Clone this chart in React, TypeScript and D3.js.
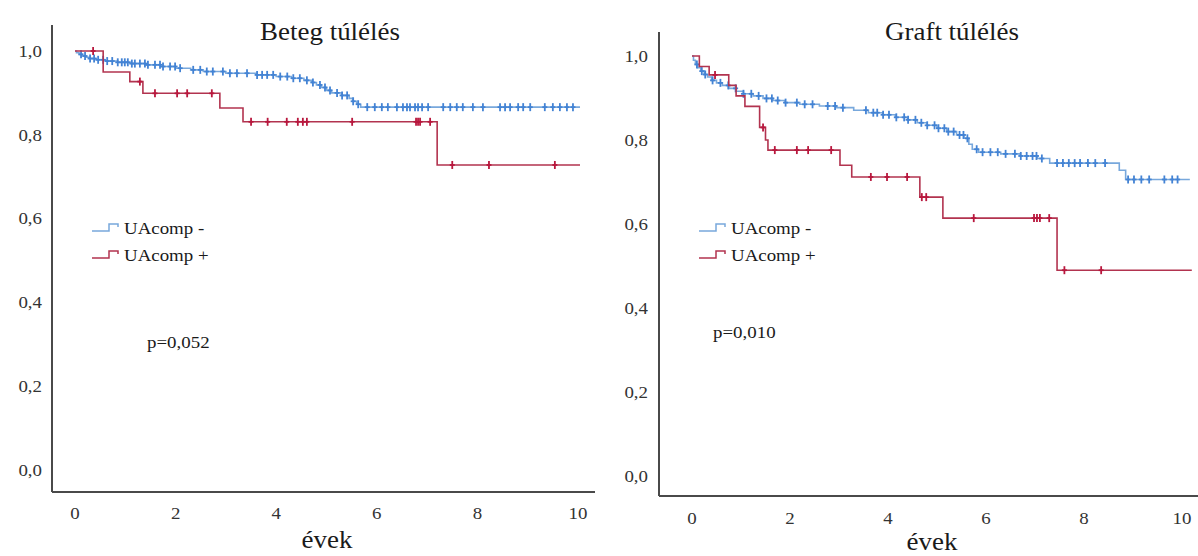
import React from "react";
import * as d3 from "d3";

// ---------- DATA ----------
const xTicks = [0, 2, 4, 6, 8, 10];
const yTicks = [0, 0.2, 0.4, 0.6, 0.8, 1.0];
const groupLabels = ["UAcomp -", "UAcomp +"];
const panelTitles = ["Beteg túlélés", "Graft túlélés"];
const pValues = ["p=0,052", "p=0,010"];
const xAxisLabel = "évek";

// Beteg túlélés – UAcomp -
const betegNegTimes = [0.03, 0.08, 0.14, 0.22, 0.3, 0.42, 0.6, 0.85, 1.1, 1.4, 1.7, 2.0, 2.3, 2.55, 3.0, 3.6, 4.0, 4.3, 4.55, 4.7, 4.8, 4.9, 5.0, 5.1, 5.3, 5.45, 5.52, 5.6, 5.68];
const betegNegSurv = [0.996, 0.992, 0.988, 0.985, 0.982, 0.979, 0.976, 0.973, 0.97, 0.967, 0.963, 0.959, 0.955, 0.951, 0.947, 0.943, 0.939, 0.935, 0.93, 0.925, 0.919, 0.913, 0.906, 0.9, 0.894, 0.887, 0.88, 0.873, 0.866];
const betegNegCensor = [0.12, 0.2, 0.3, 0.38, 0.46, 0.56, 0.64, 0.74, 0.85, 0.93, 0.99, 1.05, 1.13, 1.19, 1.29, 1.39, 1.45, 1.59, 1.69, 1.75, 1.89, 1.99, 2.09, 2.35, 2.49, 2.62, 2.74, 2.94, 3.08, 3.22, 3.42, 3.62, 3.72, 3.82, 3.94, 4.08, 4.22, 4.34, 4.47, 4.61, 4.73, 4.87, 4.97, 5.07, 5.21, 5.31, 5.41, 5.53, 5.63, 5.81, 5.96, 6.1, 6.22, 6.4, 6.52, 6.6, 6.66, 6.76, 6.82, 6.9, 7.02, 7.32, 7.46, 7.59, 7.71, 7.91, 8.11, 8.45, 8.55, 8.65, 8.81, 8.91, 9.05, 9.34, 9.5, 9.64, 9.78, 9.9];
const betegNegEnd = 10.04;

// Beteg túlélés – UAcomp +
const betegPosTimes = [0.56, 1.09, 1.35, 2.88, 3.34, 7.2];
const betegPosSurv = [0.95, 0.927, 0.899, 0.864, 0.831, 0.728];
const betegPosCensor = [0.36, 1.29, 1.59, 2.03, 2.23, 2.72, 3.5, 3.83, 4.21, 4.43, 4.53, 4.61, 5.51, 6.78, 6.82, 6.86, 7.06, 7.5, 8.23, 9.54];
const betegPosEnd = 10.04;

// Graft túlélés – UAcomp -
const graftNegTimes = [0.03, 0.07, 0.12, 0.18, 0.25, 0.32, 0.4, 0.5, 0.62, 0.75, 0.9, 1.05, 1.25, 1.45, 1.65, 1.9, 2.2, 2.6, 2.95, 3.3, 3.6, 3.9, 4.15, 4.4, 4.6, 4.8, 5.0, 5.2, 5.4, 5.55, 5.65, 5.72, 5.85, 6.3, 6.7, 7.05, 7.3, 8.72, 8.85];
const graftNegSurv = [0.99, 0.98, 0.972, 0.964, 0.956, 0.95, 0.942, 0.936, 0.93, 0.923, 0.916, 0.91, 0.905, 0.899, 0.894, 0.889, 0.885, 0.881, 0.877, 0.871, 0.865, 0.86, 0.854, 0.848, 0.841, 0.835, 0.828, 0.82, 0.812, 0.804, 0.79, 0.778, 0.771, 0.767, 0.762, 0.756, 0.745, 0.728, 0.706];
const graftNegCensor = [0.1, 0.2, 0.27, 0.42, 0.58, 0.74, 0.89, 1.05, 1.21, 1.36, 1.52, 1.63, 1.75, 1.91, 2.14, 2.3, 2.46, 2.77, 2.92, 3.08, 3.55, 3.7, 3.78, 3.9, 4.02, 4.17, 4.33, 4.41, 4.56, 4.68, 4.8, 4.95, 5.03, 5.15, 5.23, 5.34, 5.46, 5.54, 5.62, 5.81, 5.93, 6.09, 6.24, 6.4, 6.59, 6.71, 6.83, 6.95, 7.03, 7.14, 7.45, 7.57, 7.69, 7.81, 7.92, 8.08, 8.23, 8.43, 8.9, 9.02, 9.17, 9.33, 9.64, 9.8, 9.91];
const graftNegEnd = 10.16;

// Graft túlélés – UAcomp +
const graftPosTimes = [0.15, 0.35, 0.75, 0.9, 1.08, 1.38, 1.5, 1.55, 3.02, 3.26, 4.65, 5.12, 7.45];
const graftPosSurv = [0.975, 0.955, 0.93, 0.905, 0.88, 0.83, 0.8, 0.776, 0.74, 0.712, 0.664, 0.614, 0.49];
const graftPosCensor = [0.47, 1.45, 1.69, 2.14, 2.37, 2.84, 3.65, 3.98, 4.39, 4.69, 4.78, 5.75, 6.98, 7.04, 7.1, 7.29, 7.6, 8.35];
const graftPosEnd = 10.2;

// ---------- STYLE ----------
const BLUE_LINE = "#78a8dc";
const BLUE_MARK = "#4383d4";
const RED_LINE = "#b2334f";
const RED_MARK = "#b8173d";
const FONT = "'Liberation Serif', 'Times New Roman', serif";
const SX = 1.08; // slight horizontal text stretch as in the reference

type Series = { times: number[]; surv: number[]; censor: number[]; end: number };

function stepPoints(s: Series): [number, number][] {
  const pts: [number, number][] = [[0, 1]];
  s.times.forEach((t, i) => pts.push([t, s.surv[i]]));
  pts.push([s.end, s.surv[s.surv.length - 1]]);
  return pts;
}

function survAt(s: Series, t: number): number {
  let v = 1;
  s.times.forEach((tt, i) => {
    if (tt <= t) v = s.surv[i];
  });
  return v;
}

function SText(props: { x: number; y: number; size: number; anchor?: string; children: any; fill?: string }) {
  const { x, y, size, anchor = "middle", children, fill = "#1a1a1a" } = props;
  return (
    <text
      transform={`translate(${x},${y}) scale(${SX},1)`}
      fontFamily={FONT}
      fontSize={size}
      textAnchor={anchor}
      dominantBaseline="central"
      fill={fill}
    >
      {children}
    </text>
  );
}

type PanelProps = {
  title: string;
  pText: string;
  neg: Series;
  pos: Series;
  xr: [number, number];
  yr: [number, number];
  axisX: number;
  axisTop: number;
  axisY: number;
  axisRight: number;
  titleX: number;
  labelX: number;
  tickLabelY: number;
  xLabelY: number;
  yLabelEnd: number;
  legendX: number;
  legendY: number;
  pX: number;
  pY: number;
};

function Panel(p: PanelProps) {
  const x = d3.scaleLinear().domain([0, 10]).range(p.xr);
  const y = d3.scaleLinear().domain([0, 1]).range(p.yr);
  const line = d3
    .line<[number, number]>()
    .x((d) => x(d[0]))
    .y((d) => y(d[1]))
    .curve(d3.curveStepAfter);

  const drawSeries = (s: Series, lc: string, mc: string, key: string) => (
    <g key={key}>
      <path d={line(stepPoints(s)) || ""} fill="none" stroke={lc} strokeWidth={1.6} />
      {s.censor.map((t, i) => {
        const cx = x(t);
        const cy = y(survAt(s, t));
        return (
          <g key={i} stroke={mc} strokeWidth={1.8}>
            <line x1={cx} x2={cx} y1={cy - 4} y2={cy + 4} />
            <line x1={cx - 2.5} x2={cx + 2.5} y1={cy} y2={cy} />
          </g>
        );
      })}
    </g>
  );

  const fmt = (v: number) => d3.format(".1f")(v).replace(".", ",");
  const legendItems = [
    { label: groupLabels[0], color: BLUE_LINE },
    { label: groupLabels[1], color: RED_LINE },
  ];

  return (
    <g>
      <SText x={p.titleX} y={32} size={25}>
        {p.title}
      </SText>
      {/* axes */}
      <line x1={p.axisX} x2={p.axisX} y1={p.axisTop} y2={p.axisY} stroke="#4a4a4a" strokeWidth={2} />
      <line x1={p.axisX} x2={p.axisRight} y1={p.axisY} y2={p.axisY} stroke="#4a4a4a" strokeWidth={2} />
      {yTicks.map((v) => (
        <SText key={v} x={p.yLabelEnd} y={y(v)} size={17.5} anchor="end" fill="#333">
          {fmt(v)}
        </SText>
      ))}
      {xTicks.map((v) => (
        <SText key={v} x={x(v)} y={p.tickLabelY} size={17.5} fill="#333">
          {v}
        </SText>
      ))}
      <SText x={p.labelX} y={p.xLabelY} size={25}>
        {xAxisLabel}
      </SText>
      {/* curves */}
      {drawSeries(p.neg, BLUE_LINE, BLUE_MARK, "neg")}
      {drawSeries(p.pos, RED_LINE, RED_MARK, "pos")}
      {/* legend */}
      {legendItems.map((it, i) => {
        const ly = p.legendY + i * 27;
        const lx = p.legendX;
        return (
          <g key={it.label}>
            <path
              d={`M${lx},${ly + 3} H${lx + 17} V${ly - 4} H${lx + 26} V${ly - 1}`}
              fill="none"
              stroke={it.color}
              strokeWidth={1.5}
            />
            <SText x={lx + 32} y={ly} size={17.5} anchor="start">
              {it.label}
            </SText>
          </g>
        );
      })}
      <SText x={p.pX} y={p.pY} size={17.5} anchor="start">
        {p.pText}
      </SText>
    </g>
  );
}

export default function App() {
  const betegNeg: Series = { times: betegNegTimes, surv: betegNegSurv, censor: betegNegCensor, end: betegNegEnd };
  const betegPos: Series = { times: betegPosTimes, surv: betegPosSurv, censor: betegPosCensor, end: betegPosEnd };
  const graftNeg: Series = { times: graftNegTimes, surv: graftNegSurv, censor: graftNegCensor, end: graftNegEnd };
  const graftPos: Series = { times: graftPosTimes, surv: graftPosSurv, censor: graftPosCensor, end: graftPosEnd };

  return (
    <svg
      width={1198}
      height={556}
      style={{ position: "absolute", left: 0, top: 0, background: "#fff" }}
    >
      <rect width={1198} height={556} fill="#fff" />
      <Panel
        title={panelTitles[0]}
        pText={pValues[0]}
        neg={betegNeg}
        pos={betegPos}
        xr={[75, 578]}
        yr={[470, 51]}
        axisX={52}
        axisTop={25}
        axisY={492}
        axisRight={595}
        titleX={330}
        labelX={327}
        tickLabelY={513}
        xLabelY={540}
        yLabelEnd={42}
        legendX={92}
        legendY={228}
        pX={147}
        pY={342}
      />
      <Panel
        title={panelTitles[1]}
        pText={pValues[1]}
        neg={graftNeg}
        pos={graftPos}
        xr={[692, 1182]}
        yr={[476, 56]}
        axisX={659}
        axisTop={32}
        axisY={496}
        axisRight={1198}
        titleX={952}
        labelX={932}
        tickLabelY={518}
        xLabelY={542}
        yLabelEnd={648}
        legendX={699}
        legendY={228}
        pX={713}
        pY={332}
      />
    </svg>
  );
}
